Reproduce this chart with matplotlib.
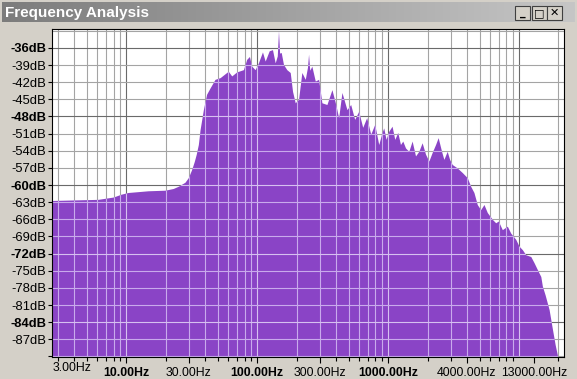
import numpy as np
import matplotlib
matplotlib.use("Agg")
import matplotlib.pyplot as plt
from matplotlib.patches import Rectangle

# spectrum (Hz, dB)
freq_hz = [2.69, 6.14, 8.0, 9.2, 10.4, 11.7, 14.8, 19.9, 23.0, 25.2,
           28.3, 30.0, 31.8, 33.3, 34.5, 35.8, 36.9, 39.1, 41.4, 44.0,
           48.0, 52.5, 58.9, 60.7, 64.4, 70.3, 79.1, 83.8, 87.9, 91.6,
           97.2, 103.0, 110.6, 116.0, 124.5, 131.9, 138.3, 143.5, 146.6, 149.5,
           153.8, 160.1, 169.7, 180.2, 187.7, 196.8, 208.6, 221.1, 234.8, 244.0,
           248.8, 254.0, 263.7, 280.0, 296.8, 314.6, 343.6, 375.3, 398.4, 422.3,
           447.5, 488.9, 521.9, 560.0, 600.7, 644.9, 691.8, 742.3, 796.5, 855.0,
           906.1, 933.6, 972.3, 1019.5, 1080.6, 1133.4, 1195, 1253, 1305, 1369,
           1451, 1538, 1633, 1730, 1834, 1948, 2064, 2188, 2323, 2432,
           2582, 2689, 2850, 2974, 3113, 3400, 3713, 4055, 4305, 4563,
           4836, 5136, 5442, 5770, 6302, 6691, 7004, 7516, 8208, 8715,
           9519, 10088, 10693, 11353, 12400, 13145, 13930, 14790, 15210, 15950,
           17120, 18050, 19030, 20070, 20500]
level_db = [-62.8, -62.6, -62.2, -61.7, -61.4, -61.3, -61.1, -61.0, -60.7, -60.3,
            -59.6, -58.8, -57.4, -56.0, -54.7, -53.0, -50.4, -46.9, -44.2, -43.1,
            -41.6, -41.3, -40.4, -40.2, -41.0, -40.3, -39.9, -38.1, -37.6, -39.3,
            -39.9, -38.7, -36.8, -38.4, -36.6, -36.4, -38.7, -37.5, -33.1, -37.0,
            -36.9, -39.0, -39.9, -40.4, -43.7, -45.7, -45.1, -40.4, -41.6, -39.5,
            -37.2, -40.0, -39.3, -41.9, -41.6, -45.7, -46.0, -43.4, -45.7, -48.3,
            -43.9, -46.9, -46.0, -48.6, -47.2, -50.0, -48.3, -51.2, -49.5, -53.0,
            -50.9, -50.1, -52.1, -50.7, -49.8, -52.1, -50.9, -53.0, -52.4, -53.6,
            -54.2, -52.4, -55.0, -54.2, -52.7, -54.7, -55.9, -54.4, -53.0, -51.8,
            -54.2, -55.6, -54.2, -55.6, -56.5, -57.1, -57.9, -58.8, -60.3, -61.4,
            -63.5, -64.4, -63.5, -64.9, -66.1, -66.7, -66.4, -67.9, -67.3, -68.5,
            -69.6, -70.8, -71.4, -72.3, -72.6, -73.7, -74.9, -76.1, -77.8, -79.3,
            -81.9, -85.0, -88.0, -90.5, -95.0]

x_tick_hz = [10, 30, 100, 300, 1000, 4000, 13000]
x_bold_hz = [10, 100, 1000]
y_tick_db = list(range(-87, -35, 3))
y_bold_db = [-36, -48, -60, -72, -84]

PURPLE = '#8a44c6'
WIN = '#d4d0c8'

fig = plt.figure(figsize=(5.77, 3.79), dpi=100)
fig.patch.set_facecolor(WIN)
W, H = 577.0, 379.0

# title bar
tb = fig.add_axes([2 / W, 1 - 22 / H, 573 / W, 20 / H])
grad = np.linspace(0, 1, 256)[None, :]
tb.imshow(grad, aspect='auto', cmap=matplotlib.colors.LinearSegmentedColormap.from_list(
    'tb', ['#7c7c7c', '#c6c6c6']), extent=[0, 1, 0, 1])
tb.set_xlim(0, 1)
tb.set_ylim(0, 1)
tb.axis('off')
fig.text(5 / W, 1 - 12.5 / H, 'Frequency Analysis', color='white', fontsize=11,
         fontweight='bold', family='Liberation Sans', va='center', ha='left')
for i, sym in enumerate(['_', '□', '✕']):
    x0 = 515 + i * 17 - (2 if i == 2 else 0)
    fig.patches.append(Rectangle((x0 / W, 1 - 20 / H), 15 / W, 14 / H,
                                 transform=fig.transFigure, facecolor=WIN,
                                 edgecolor='#404040', lw=0.8))
    fig.text((x0 + 7.5) / W, 1 - 13 / H, sym, fontsize=8, fontweight='bold',
             ha='center', va='center', family='DejaVu Sans')

# plot area
ax = fig.add_axes([51.7 / W, 1 - 357 / H, (564 - 51.7) / W, (357 - 29) / H])
ax.set_facecolor('white')
ax.set_xscale('log')
ax.set_xlim(2.69, 22050)
ax.set_ylim(-90.1, -32.7)

minor_x = [m * 10.0 ** e for e in range(0, 5) for m in range(2, 10)
           if 2.69 < m * 10.0 ** e < 22050]
major_x = [10, 100, 1000, 10000]
minor_y = [v for v in range(-90, -32, 3) if v not in y_bold_db]

def grid(color_minor, color_major, z):
    arts = []
    for g in minor_x:
        arts.append(ax.axvline(g, color=color_minor, lw=0.8, zorder=z))
    for g in major_x:
        arts.append(ax.axvline(g, color=color_major, lw=0.8, zorder=z))
    for g in minor_y:
        arts.append(ax.axhline(g, color=color_minor, lw=0.8, zorder=z))
    for g in y_bold_db:
        arts.append(ax.axhline(g, color=color_major, lw=0.8, zorder=z))
    return arts

grid('#a4a4a4', '#6a6a6a', 1)
fill = ax.fill_between(freq_hz, level_db, -100, color=PURPLE, lw=0, zorder=2)
clip = fill.get_paths()[0]
for a in grid('#c9aaec', '#d6c0f0', 3):
    a.set_clip_path(clip, fill.get_transform())

for s in ax.spines.values():
    s.set_color('black')
    s.set_linewidth(0.8)
    s.set_zorder(5)

# y axis
ax.set_yticks(y_tick_db + [-90])
ax.set_yticklabels(['%ddB' % v for v in y_tick_db] + [''])
for lab, v in zip(ax.get_yticklabels(), y_tick_db + [-90]):
    lab.set_family('Liberation Sans')
    lab.set_fontsize(9.4)
    if v in y_bold_db:
        lab.set_fontweight('bold')
ax.tick_params(axis='y', direction='out', length=3, width=0.8, pad=1)

# x axis
ax.set_xticks(x_tick_hz)
ax.set_xticklabels(['%.2fHz' % v for v in x_tick_hz])
for lab, v in zip(ax.get_xticklabels(), x_tick_hz):
    lab.set_family('Liberation Sans')
    lab.set_fontsize(8.8)
    if v in x_bold_hz:
        lab.set_fontweight('bold')
ax.set_xticks(minor_x, minor=True)
ax.set_xticklabels([], minor=True)
ax.tick_params(axis='x', which='major', direction='out', length=4, width=0.8, pad=3)
ax.tick_params(axis='x', which='minor', direction='out', length=3, width=0.8)
ax.text(0.002, -0.016, '3.00Hz', transform=ax.transAxes, ha='left', va='top',
        fontsize=8.8, family='Liberation Sans')

fig.savefig('out.png', dpi=100, facecolor=fig.get_facecolor())
